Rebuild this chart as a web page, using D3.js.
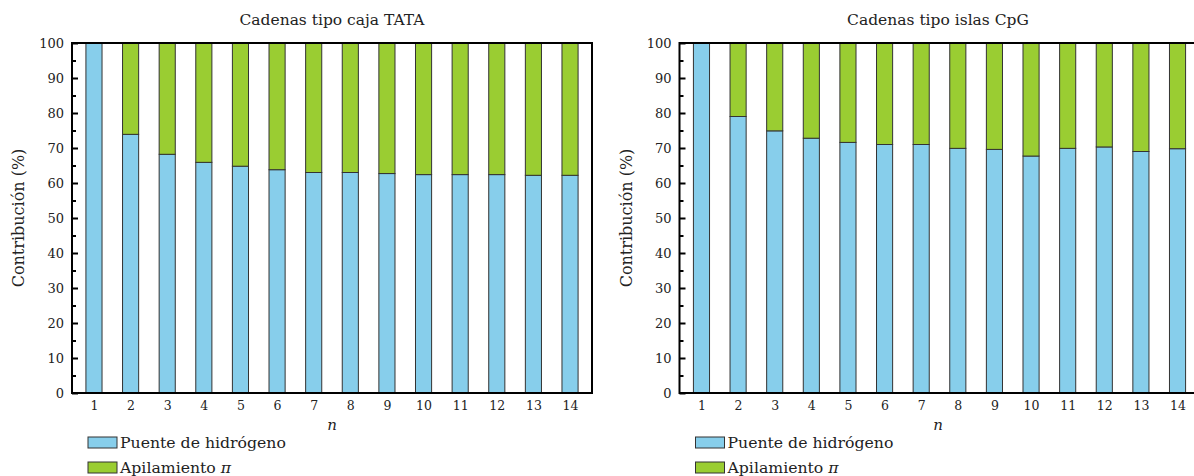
<!DOCTYPE html>
<html>
<head>
<meta charset="utf-8">
<script src="https://cdn.jsdelivr.net/npm/d3@7"></script>
<style>
  html, body { margin: 0; padding: 0; background: #fff; }
  svg { display: block; font-family: "DejaVu Serif", Georgia, serif; }
</style>
</head>
<body>
<svg id="chart" width="1194" height="476"></svg>
<script>
// Chain length n
const chainLengths = [1, 2, 3, 4, 5, 6, 7, 8, 9, 10, 11, 12, 13, 14];

// Hydrogen-bond share (%) for each chain type; pi-stacking is the remainder to 100
const hbondTATA = [100, 73.9, 68.2, 65.9, 64.8, 63.8, 63.0, 63.0, 62.7, 62.4, 62.4, 62.4, 62.2, 62.2];
const hbondCpG  = [100, 79.0, 74.9, 72.8, 71.6, 71.0, 71.0, 69.9, 69.6, 67.7, 69.9, 70.3, 69.0, 69.8];

const yMajorTicks = [0, 10, 20, 30, 40, 50, 60, 70, 80, 90, 100];
const yMinorTicks = [5, 15, 25, 35, 45, 55, 65, 75, 85, 95];

const panelTitles = ["Cadenas tipo caja TATA", "Cadenas tipo islas CpG"];
const seriesNames = ["Puente de hidrógeno", "Apilamiento"];
const seriesColors = ["#87ceeb", "#9acd32"];

const svg = d3.select("#chart");

const panels = [
  { title: panelTitles[0], values: hbondTATA, left: 72, width: 520, center: 332 },
  { title: panelTitles[1], values: hbondCpG, left: 679.5, width: 520, center: 938 }
];
const plotTop = 43, plotBottom = 393;

panels.forEach(p => {
  const g = svg.append("g");
  const x = d3.scaleLinear().domain([0.4, 14.6]).range([p.left, p.left + p.width]);
  const y = d3.scaleLinear().domain([0, 100]).range([plotBottom, plotTop]);
  const barW = (x(1) - x(0)) * 0.44;

  // stacked bars: hydrogen bond at the base, pi-stacking on top
  const bars = g.append("g");
  chainLengths.forEach((n, i) => {
    const v = p.values[i];
    bars.append("rect")
      .attr("x", x(n) - barW / 2).attr("width", barW)
      .attr("y", y(v)).attr("height", y(0) - y(v))
      .attr("fill", seriesColors[0]).attr("stroke", "#333").attr("stroke-width", 1);
    if (v < 100) {
      bars.append("rect")
        .attr("x", x(n) - barW / 2).attr("width", barW)
        .attr("y", y(100)).attr("height", y(v) - y(100))
        .attr("fill", seriesColors[1]).attr("stroke", "#333").attr("stroke-width", 1);
    }
  });

  // frame
  g.append("rect")
    .attr("x", p.left).attr("y", plotTop)
    .attr("width", p.width).attr("height", plotBottom - plotTop)
    .attr("fill", "none").attr("stroke", "#000").attr("stroke-width", 2);

  // y axis (ticks point inward)
  const yAxis = g.append("g").attr("transform", `translate(${p.left},0)`)
    .call(d3.axisLeft(y).tickValues(yMajorTicks).tickSize(-6).tickPadding(8).tickFormat(d3.format("d")));
  yAxis.select(".domain").remove();
  yAxis.selectAll(".tick line").attr("stroke", "#000").attr("stroke-width", 2);
  yAxis.selectAll(".tick text").attr("font-size", 13).attr("fill", "#222")
    .attr("font-family", "DejaVu Serif, serif");

  const yMinor = g.append("g").attr("transform", `translate(${p.left},0)`)
    .call(d3.axisLeft(y).tickValues(yMinorTicks).tickSize(-4).tickFormat(""));
  yMinor.select(".domain").remove();
  yMinor.selectAll(".tick line").attr("stroke", "#000").attr("stroke-width", 2);

  // x axis labels
  const xAxis = g.append("g").attr("transform", `translate(0,${plotBottom})`)
    .call(d3.axisBottom(x).tickValues(chainLengths).tickSize(0).tickPadding(8).tickFormat(d3.format("d")));
  xAxis.select(".domain").remove();
  xAxis.selectAll(".tick text").attr("font-size", 12.5).attr("fill", "#222")
    .attr("font-family", "DejaVu Serif, serif");

  // title and axis names
  g.append("text").attr("x", p.center).attr("y", 25)
    .attr("text-anchor", "middle").attr("font-size", 15.5).attr("fill", "#222")
    .text(p.title);

  g.append("text").attr("x", p.center).attr("y", 430)
    .attr("text-anchor", "middle").attr("font-size", 15).attr("font-style", "italic").attr("fill", "#222")
    .text("n");

  g.append("text")
    .attr("transform", `translate(${p.left - 48},${(plotTop + plotBottom) / 2}) rotate(-90)`)
    .attr("text-anchor", "middle").attr("font-size", 16).attr("fill", "#222")
    .text("Contribución (%)");

  // legend
  const lg = g.append("g").attr("transform", `translate(${p.left + 16},437)`);
  seriesNames.forEach((name, i) => {
    lg.append("rect").attr("x", 0).attr("y", i * 25).attr("width", 29).attr("height", 11)
      .attr("fill", seriesColors[i]).attr("stroke", "#333").attr("stroke-width", 1);
    const t = lg.append("text").attr("x", 32).attr("y", i * 25 + 11)
      .attr("font-size", 15.7).attr("fill", "#222").text(name);
    if (i === 1) t.append("tspan").attr("font-style", "italic").text(" π");
  });
});
</script>
</body>
</html>
